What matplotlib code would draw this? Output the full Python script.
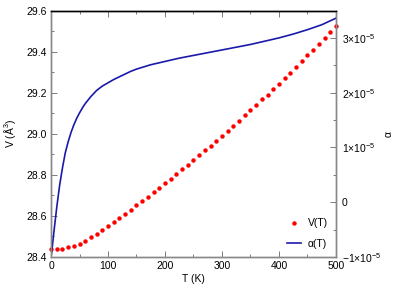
import matplotlib
matplotlib.use("Agg")
import matplotlib.pyplot as plt
from matplotlib.ticker import MultipleLocator, FuncFormatter
import numpy as np

plt.rcParams['font.family'] = ['Liberation Sans', 'DejaVu Sans']
plt.rcParams['mathtext.fontset'] = 'custom'
plt.rcParams['mathtext.rm'] = 'Liberation Sans'
plt.rcParams['mathtext.it'] = 'Liberation Sans:italic'
plt.rcParams['font.size'] = 7.5

# V(T) points, every 10 K
T_v = np.arange(0, 501, 10)
V = [28.437, 28.439, 28.441, 28.447, 28.454, 28.465, 28.479, 28.496, 28.513, 28.531,
     28.551, 28.570, 28.590, 28.610, 28.630, 28.651, 28.672, 28.694, 28.715, 28.737,
     28.759, 28.781, 28.804, 28.827, 28.849, 28.872, 28.895, 28.919, 28.942, 28.966,
     28.991, 29.015, 29.039, 29.064, 29.090, 29.116, 29.141, 29.168, 29.191, 29.218,
     29.244, 29.270, 29.297, 29.325, 29.353, 29.382, 29.410, 29.439, 29.468, 29.497,
     29.526]

# alpha(T) curve, in units of 1e-5
T_a = [0, 2, 5, 8, 10, 13, 15, 20, 25, 30, 35, 40, 45, 50, 55, 60, 70, 80, 90, 100,
       110, 120, 130, 140, 150, 175, 200, 225, 250, 275, 300, 325, 350, 375, 400,
       425, 450, 475, 500]
alpha = [-1.0, -0.84, -0.55, -0.28, -0.1, 0.14, 0.3, 0.62, 0.9, 1.1, 1.27, 1.41,
         1.53, 1.63, 1.72, 1.8, 1.93, 2.04, 2.12, 2.18, 2.24, 2.29, 2.34, 2.39,
         2.43, 2.51, 2.57, 2.63, 2.68, 2.73, 2.78, 2.83, 2.88, 2.94, 3.0, 3.07,
         3.15, 3.24, 3.36]

fig = plt.figure(figsize=(4.15, 2.91), dpi=100)
ax = fig.add_axes([0.1229, 0.1168, 0.8096 - 0.1229, 0.9639 - 0.1168])
ax2 = ax.twinx()

pts, = ax.plot(T_v, V, 'o', color='#ff0000', ms=3.2, mec='none', clip_on=False)
line, = ax2.plot(T_a, np.array(alpha) * 1e-5, color='#1a1aaa', lw=1.2)

ax.set_xlim(0, 500)
ax.set_ylim(28.4, 29.6)
ax2.set_ylim(-1e-5, 3.5e-5)

ax.xaxis.set_major_locator(MultipleLocator(100))
ax.xaxis.set_minor_locator(MultipleLocator(50))
ax.yaxis.set_major_locator(MultipleLocator(0.2))
ax.yaxis.set_minor_locator(MultipleLocator(0.1))
ax.yaxis.set_major_formatter(FuncFormatter(lambda v, p: '%.1f' % v))
ax2.yaxis.set_major_locator(MultipleLocator(1e-5))
ax2.yaxis.set_minor_locator(MultipleLocator(0.5e-5))


def sci(v, p):
    n = int(round(v / 1e-5))
    if n == 0:
        return '0'
    sign = '\u2212' if n < 0 else ''
    return r'$%s%d{\times}10^{-5}$' % (sign, abs(n))


ax2.yaxis.set_major_formatter(FuncFormatter(sci))

ax.tick_params(axis='x', which='both', direction='in', top=True, bottom=True, pad=3)
ax.tick_params(axis='y', which='both', direction='in', left=True, right=False, pad=3)
ax.tick_params(which='major', length=4, width=0.6, color='#666666')
ax.tick_params(which='minor', length=2.5, width=0.6, color='#666666')
ax2.tick_params(axis='y', which='both', direction='in', right=True, left=False, pad=4)
ax2.tick_params(which='major', length=4, width=0.6, color='#666666')
ax2.tick_params(which='minor', length=2.5, width=0.6, color='#666666')

for a in (ax, ax2):
    for s in ('left', 'bottom', 'right'):
        a.spines[s].set_color('#888888')
        a.spines[s].set_linewidth(1.0)
    a.spines['top'].set_color('black')
    a.spines['top'].set_linewidth(1.0)

ax.set_xlabel('T (K)', labelpad=2)
ax.set_ylabel(r'V ($\mathrm{\AA}^3$)', labelpad=6)
ax2.set_ylabel('\u03b1', labelpad=2)

ax.legend([pts, line], ['V(T)', '\u03b1(T)'], loc='lower right', frameon=False,
          handlelength=1.4, handletextpad=0.6, borderaxespad=0.4, labelspacing=1.0)

fig.savefig('out.png', dpi=100)
